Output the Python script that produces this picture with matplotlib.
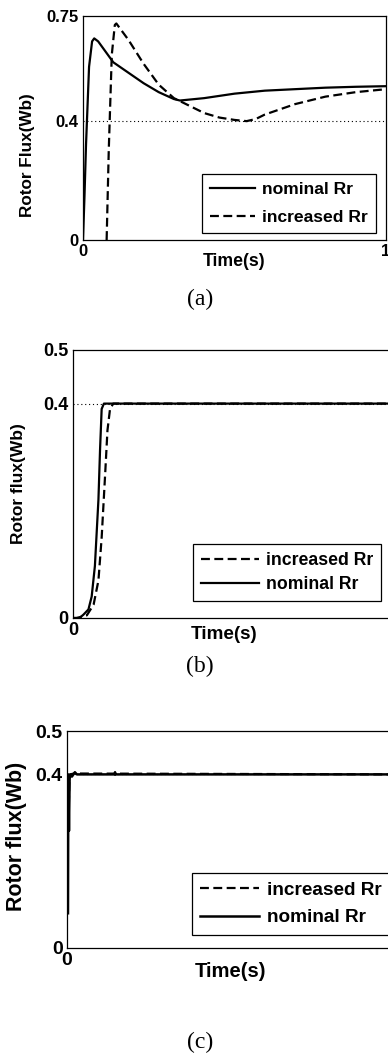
import matplotlib
matplotlib.use("Agg")
import matplotlib.pyplot as plt

# (a) rotor flux, nominal vs increased Rr
a_nom_t = [0.0, 0.005, 0.01, 0.02, 0.03, 0.037, 0.05, 0.1, 0.15, 0.2, 0.25, 0.3, 0.32, 0.4, 0.5, 0.6, 0.7, 0.8, 0.9, 1.0]
a_nom_y = [0.0, 0.15, 0.32, 0.58, 0.665, 0.675, 0.665, 0.595, 0.56, 0.525, 0.495, 0.472, 0.467, 0.475, 0.49, 0.5, 0.505, 0.51, 0.513, 0.515]
a_inc_t = [0.078, 0.085, 0.095, 0.105, 0.11, 0.15, 0.2, 0.25, 0.3, 0.35, 0.4, 0.45, 0.5, 0.54, 0.57, 0.6, 0.7, 0.8, 0.9, 1.0]
a_inc_y = [0.0, 0.3, 0.62, 0.72, 0.725, 0.67, 0.59, 0.52, 0.475, 0.45, 0.425, 0.41, 0.402, 0.398, 0.405, 0.42, 0.455, 0.48, 0.495, 0.505]

# (b)
b_nom_t = [0.0, 0.02, 0.032, 0.048, 0.058, 0.068, 0.079, 0.084, 0.089, 0.096, 1.0]
b_nom_y = [0.0, 0.0, 0.006, 0.016, 0.04, 0.097, 0.221, 0.314, 0.39, 0.4, 0.4]
b_inc_t = [0.0, 0.011, 0.043, 0.064, 0.079, 0.089, 0.1, 0.107, 0.115, 0.125, 1.0]
b_inc_y = [0.0, 0.0, 0.005, 0.025, 0.07, 0.15, 0.27, 0.35, 0.39, 0.4, 0.4]

# (c)
c_nom_t = [0.003, 0.004, 0.006, 0.008, 0.010, 0.015, 0.024, 0.03, 0.145, 0.146, 0.147, 1.0]
c_nom_y = [0.08, 0.40, 0.27, 0.39, 0.40, 0.395, 0.405, 0.40, 0.40, 0.405, 0.40, 0.40]
c_inc_t = [0.005, 0.007, 0.01, 0.02, 1.0]
c_inc_y = [0.30, 0.39, 0.40, 0.402, 0.40]

W, H = 388, 1055
SANS = "Liberation Sans"


def px_axes(fig, left, right, top, bottom):
    return fig.add_axes([left / W, (H - bottom) / H, (right - left) / W, (bottom - top) / H])


def style(ax, yticks, yticklabels, ylabel, fs, lab_xy, xlab_xy, yfs, xfs):
    ax.set_xlim(0, 1)
    ax.set_ylim(yticks[0], yticks[-1])
    ax.set_yticks(yticks)
    ax.set_yticklabels(yticklabels)
    ax.set_xticks([0, 1])
    ax.set_xticklabels(["0", "1"])
    ax.tick_params(length=0, pad=3, labelsize=fs)
    for lbl in ax.get_xticklabels() + ax.get_yticklabels():
        lbl.set_fontweight("bold")
        lbl.set_family(SANS)
    for s in ax.spines.values():
        s.set_linewidth(0.9)
    ax.set_ylabel(ylabel, fontsize=yfs, fontweight="bold", family=SANS, va="center")
    ax.yaxis.set_label_coords(*lab_xy)
    ax.set_xlabel("Time(s)", fontsize=xfs, fontweight="bold", family=SANS, va="center")
    ax.xaxis.set_label_coords(*xlab_xy)
    ax.axhline(0.4, color="k", lw=0.8, ls=(0, (1, 2.5)), zorder=1)


def legend(ax, handles, labels, loc_xy, fs, spacing, hl):
    leg = ax.legend(handles, labels, loc="lower right", bbox_to_anchor=loc_xy,
                    fancybox=False, framealpha=1, edgecolor="k", handlelength=hl,
                    handletextpad=0.4, borderpad=0.45, labelspacing=spacing,
                    borderaxespad=0, prop={"family": SANS, "weight": "bold", "size": fs})
    leg.get_frame().set_linewidth(0.9)


fig = plt.figure(figsize=(W / 100, H / 100), dpi=100)
dash = (0, (4, 2))

# panel (a)
ax = px_axes(fig, 83, 386, 16, 240)
l1, = ax.plot(a_nom_t, a_nom_y, color="k", lw=1.6, zorder=3)
l2, = ax.plot(a_inc_t, a_inc_y, color="k", lw=1.6, ls=dash, zorder=3)
style(ax, [0, 0.4, 0.75], ["0", "0.4", "0.75"], "Rotor Flux(Wb)", 12,
      (-0.183, 0.38), (0.5, -0.098), 12.3, 12.7)
legend(ax, [l1, l2], ["nominal Rr", "increased Rr"], (0.967, 0.031), 12.6, 0.75, 2.6)

# panel (b)
ax = px_axes(fig, 73, 395, 350, 618)
l2, = ax.plot(b_inc_t, b_inc_y, color="k", lw=1.6, ls=dash, zorder=3)
l1, = ax.plot(b_nom_t, b_nom_y, color="k", lw=1.6, zorder=3)
style(ax, [0, 0.4, 0.5], ["0", "0.4", "0.5"], "Rotor flux(Wb)", 13,
      (-0.168, 0.5), (0.469, -0.063), 12.5, 13.6)
ax.set_xticklabels(["0", ""])
legend(ax, [l2, l1], ["increased Rr", "nominal Rr"], (0.957, 0.063), 12.7, 0.4, 3.3)

# panel (c)
ax = px_axes(fig, 67, 396, 731, 948)
l2, = ax.plot(c_inc_t, c_inc_y, color="k", lw=1.6, ls=dash, zorder=3)
l1, = ax.plot(c_nom_t, c_nom_y, color="k", lw=1.8, zorder=3)
style(ax, [0, 0.4, 0.5], ["0", "0.4", "0.5"], "Rotor flux(Wb)", 14,
      (-0.153, 0.516), (0.498, -0.11), 15.5, 14.6)
legend(ax, [l2, l1], ["increased Rr", "nominal Rr"], (0.982, 0.06), 13.7, 0.55, 3.1)

for lab, y in [("(a)", 299), ("(b)", 666), ("(c)", 1042)]:
    fig.text(200 / W, 1 - y / H, lab, ha="center", va="center", fontsize=17, family="Liberation Serif")

fig.savefig("out.png", dpi=100)
